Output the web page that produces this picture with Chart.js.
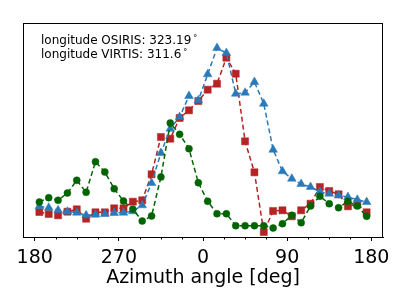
<!DOCTYPE html>
<html><head><meta charset="utf-8">
<script src="https://cdn.jsdelivr.net/npm/chart.js@4.4.0/dist/chart.umd.min.js"></script>
<style>html,body{margin:0;padding:0;background:#fff;}</style>
</head><body>
<canvas id="c" width="407" height="305"></canvas>
<script>
const azimuth = [185,195,205,215,225,235,245,255,265,275,285,295,305,315,325,335,345,355,
                 365,375,385,395,405,415,425,435,445,455,465,475,485,495,505,515,525,535];
const greenValues = [35.0,39.3,36.7,44.0,56.7,44.7,75.3,65.0,48.3,36.0,27.7,16.0,21.0,60.0,114.0,102.7,88.3,54.3,
                     35.7,23.3,23.3,11.3,11.3,11.3,11.3,9.0,13.3,21.7,14.3,31.0,40.7,33.3,29.3,35.7,31.0,20.7];
const redValues = [25.0,23.0,21.7,25.3,27.7,18.3,24.7,24.7,28.7,28.7,35.3,36.7,62.7,100.0,98.3,119.0,126.7,136.0,
                   147.3,153.3,179.3,163.3,95.7,64.7,5.0,26.0,26.7,20.7,26.7,33.3,50.0,46.0,42.7,30.7,32.7,24.7];
const blueValues = [30.7,29.3,26.7,25.3,24.3,21.7,22.3,23.0,24.0,24.3,25.7,31.7,54.0,84.0,108.3,120.0,141.0,136.7,
                    162.7,189.0,184.0,143.3,144.3,155.0,133.3,87.3,65.7,58.3,53.0,50.0,45.3,43.3,41.7,40.0,37.3,35.0];
const tickValues = [180,270,360,450,540];
const tickLabels = ['180','270','0','90','180'];
const minorTickValues = [202.5,225,247.5,292.5,315,337.5,382.5,405,427.5,472.5,495,517.5];
const annotationLines = [['longitude OSIRIS: 323.19','\u00b0'],['longitude VIRTIS: 311.6','\u00b0']];

const toPts = vals => azimuth.map((a,i)=>({x:a,y:vals[i]}));
function ds(label, vals, color, style, radius){
  return {label, data:toPts(vals), borderColor:color, backgroundColor:color,
    borderWidth:1.5, borderDash:[5,3], pointStyle:style, pointRadius:radius,
    pointBorderWidth:0.5, pointBorderColor:color, fill:false, tension:0};
}

const framePlugin = {
  id:'frame',
  afterDraw(chart){
    const {ctx, chartArea:a, scales:{x}} = chart;
    ctx.save();
    ctx.strokeStyle='#000'; ctx.lineWidth=1;
    ctx.strokeRect(Math.round(a.left)+0.5, Math.round(a.top)+0.5, Math.round(a.right-a.left)-1, Math.round(a.bottom-a.top));
    minorTickValues.forEach(v=>{
      const px = Math.round(x.getPixelForValue(v))+0.5;
      ctx.beginPath(); ctx.moveTo(px, a.bottom); ctx.lineTo(px, a.bottom+2.5); ctx.stroke();
    });
    ctx.fillStyle='#000'; ctx.textBaseline='alphabetic'; ctx.textAlign='left';
    annotationLines.forEach((ln,i)=>{
      const y = 44 + i*14;
      ctx.font='12px "DejaVu Sans"';
      ctx.fillText(ln[0], 41, y);
      const w = ctx.measureText(ln[0]).width;
      ctx.font='8px "DejaVu Sans"';
      ctx.fillText(ln[1], 41 + w + 2, y - 3);
    });
    ctx.restore();
  }
};

new Chart(document.getElementById('c'), {
  type:'line',
  data:{datasets:[
    ds('green', greenValues, '#006400', 'circle', 3.5),
    ds('blue', blueValues, '#2a7ab9', 'triangle', 5),
    ds('red', redValues, '#b52424', 'rect', 5)
  ]},
  options:{
    responsive:false, animation:false, devicePixelRatio:1,
    layout:{padding:{left:23,right:24,top:23,bottom:0}},
    plugins:{legend:{display:false}, tooltip:{enabled:false}},
    scales:{
      x:{type:'linear', min:167.5, max:552.5,
        afterBuildTicks: s => { s.ticks = tickValues.map(v=>({value:v})); },
        afterFit: s => { s.height = 68; },
        ticks:{autoSkip:false, maxRotation:0, padding:9, color:'#000',
          font:{family:'DejaVu Sans', size:19, lineHeight:0.8},
          callback: (v, i) => tickLabels[i]},
        grid:{drawOnChartArea:false, drawTicks:true, tickLength:4, color:'#000'},
        border:{display:true, color:'#000'},
        title:{display:true, text:'Azimuth angle [deg]', color:'#000',
          font:{family:'DejaVu Sans', size:19, lineHeight:0.8}, padding:{top:0,bottom:19}}
      },
      y:{display:false, min:0, max:214}
    }
  },
  plugins:[framePlugin]
});
</script>
</body></html>
